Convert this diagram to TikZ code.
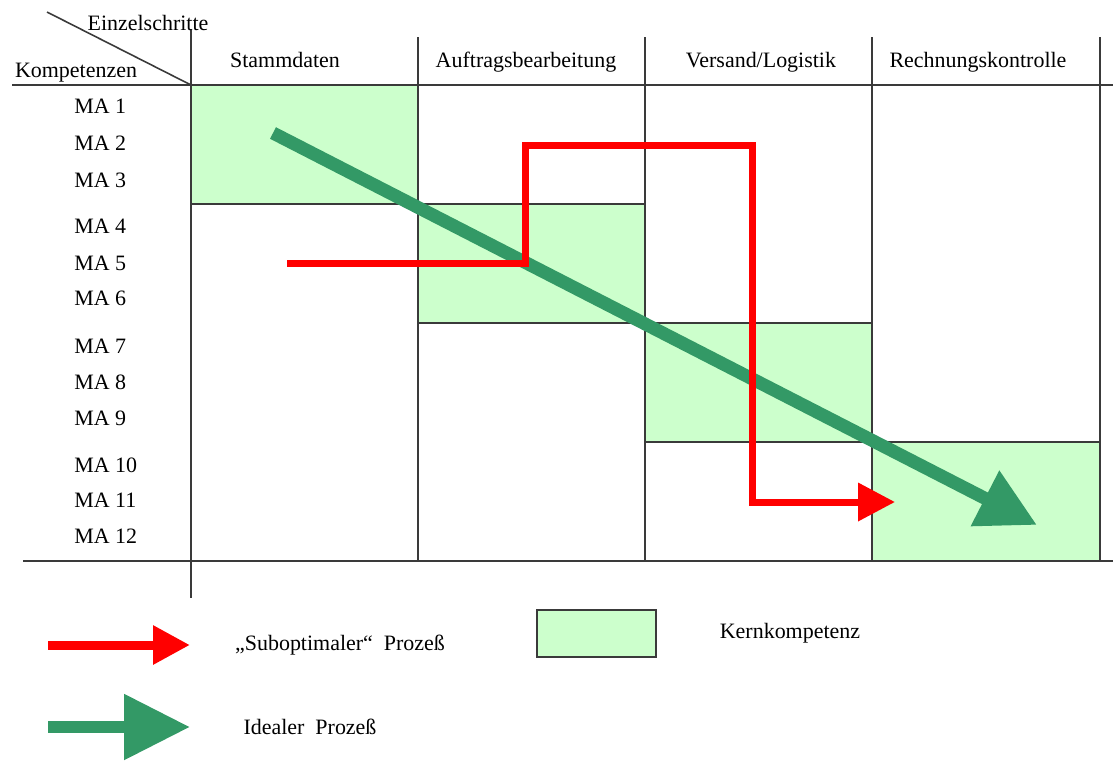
\documentclass[tikz,border=0pt]{standalone}
\usepackage{fontspec}
\setmainfont{Liberation Serif}
\usetikzlibrary{arrows.meta}

\definecolor{kerngruen}{HTML}{CCFFCC}
\definecolor{idealgruen}{HTML}{339966}
\definecolor{gitter}{HTML}{3A3A3A}

\begin{document}
\begin{tikzpicture}[x=0.02cm, y=-0.02cm,
        every node/.style={font=\fontsize{12.5}{15}\selectfont, inner sep=0pt},
        linie/.style={draw=gitter, line width=0.9pt},
        kern/.style={fill=kerngruen, draw=gitter, line width=0.9pt},
        subopt/.style={draw=red, line width=0.14cm, -{Triangle[length=0.74cm, width=0.74cm]}},
        ideal/.style={draw=idealgruen, line width=0.26cm, -{Triangle[length=1.17cm, width=1.18cm]}}]
        \useasboundingbox (0,0) rectangle (1113,762);

        % the core competences
        \filldraw[kern] (191,85) rectangle (418,204);
        \filldraw[kern] (418,204) rectangle (645,323);
        \filldraw[kern] (645,323) rectangle (872,442);
        \filldraw[kern] (872,442) rectangle (1100,561);

        % the grid
        \draw[linie] (12,85) -- (1113,85);
        \draw[linie] (23,561) -- (1113,561);
        \draw[linie] (47,12) -- (191,85);
        \draw[linie] (191,30) -- (191,598);
        \draw[linie] (418,37) -- (418,561);
        \draw[linie] (645,37) -- (645,561);
        \draw[linie] (872,37) -- (872,561);
        \draw[linie] (1100,37) -- (1100,561);

        % the texts
        \node[anchor=base] (schritte) at (148,30) {Einzelschritte};
        \node[anchor=base] (kompetenzen) at (76,77) {Kompetenzen};
        \node[anchor=base] (stamm) at (285,67) {Stammdaten};
        \node[anchor=base] (auftrag) at (526,67) {Auftragsbearbeitung};
        \node[anchor=base] (versand) at (761,67) {Versand/Logistik};
        \node[anchor=base] (rechnung) at (978,67) {Rechnungskontrolle};

        % the employees
        \node[anchor=base west] (ma1) at (74,113) {MA 1};
        \node[anchor=base west] (ma2) at (74,150) {MA 2};
        \node[anchor=base west] (ma3) at (74,187) {MA 3};
        \node[anchor=base west] (ma4) at (74,233) {MA 4};
        \node[anchor=base west] (ma5) at (74,270) {MA 5};
        \node[anchor=base west] (ma6) at (74,305) {MA 6};
        \node[anchor=base west] (ma7) at (74,353) {MA 7};
        \node[anchor=base west] (ma8) at (74,389) {MA 8};
        \node[anchor=base west] (ma9) at (74,425) {MA 9};
        \node[anchor=base west] (ma10) at (74,472) {MA 10};
        \node[anchor=base west] (ma11) at (74,507) {MA 11};
        \node[anchor=base west] (ma12) at (74,543) {MA 12};

        % the points of the two processes
        \coordinate (i0) at (273,133);
        \coordinate (i1) at (1037,525);
        \coordinate (r0) at (287,263);
        \coordinate (r1) at (525,263);
        \coordinate (r2) at (525,145);
        \coordinate (r3) at (752,145);
        \coordinate (r4) at (752,502);
        \coordinate (r5) at (895,502);

        % draw the arrows
        \draw[ideal] (i0) -- (i1);
        \draw[subopt] (r0) -- (r1) -- (r2) -- (r3) -- (r4) -- (r5);

        % the legend
        \coordinate (lr0) at (48,645);
        \coordinate (lr1) at (190,645);
        \coordinate (li0) at (48,727);
        \coordinate (li1) at (190,727);
        \draw[subopt, line width=0.18cm] (lr0) -- (lr1);
        \draw[ideal, line width=0.24cm, -{Triangle[length=1.32cm, width=1.26cm]}] (li0) -- (li1);
        \filldraw[kern] (537,610) rectangle (656,657);
        \node[anchor=base] (legsub) at (340,650) {„Suboptimaler“~ Prozeß};
        \node[anchor=base] (legkern) at (790,638) {Kernkompetenz};
        \node[anchor=base] (legideal) at (310,734) {Idealer~ Prozeß};

    \end{tikzpicture}
\end{document}
